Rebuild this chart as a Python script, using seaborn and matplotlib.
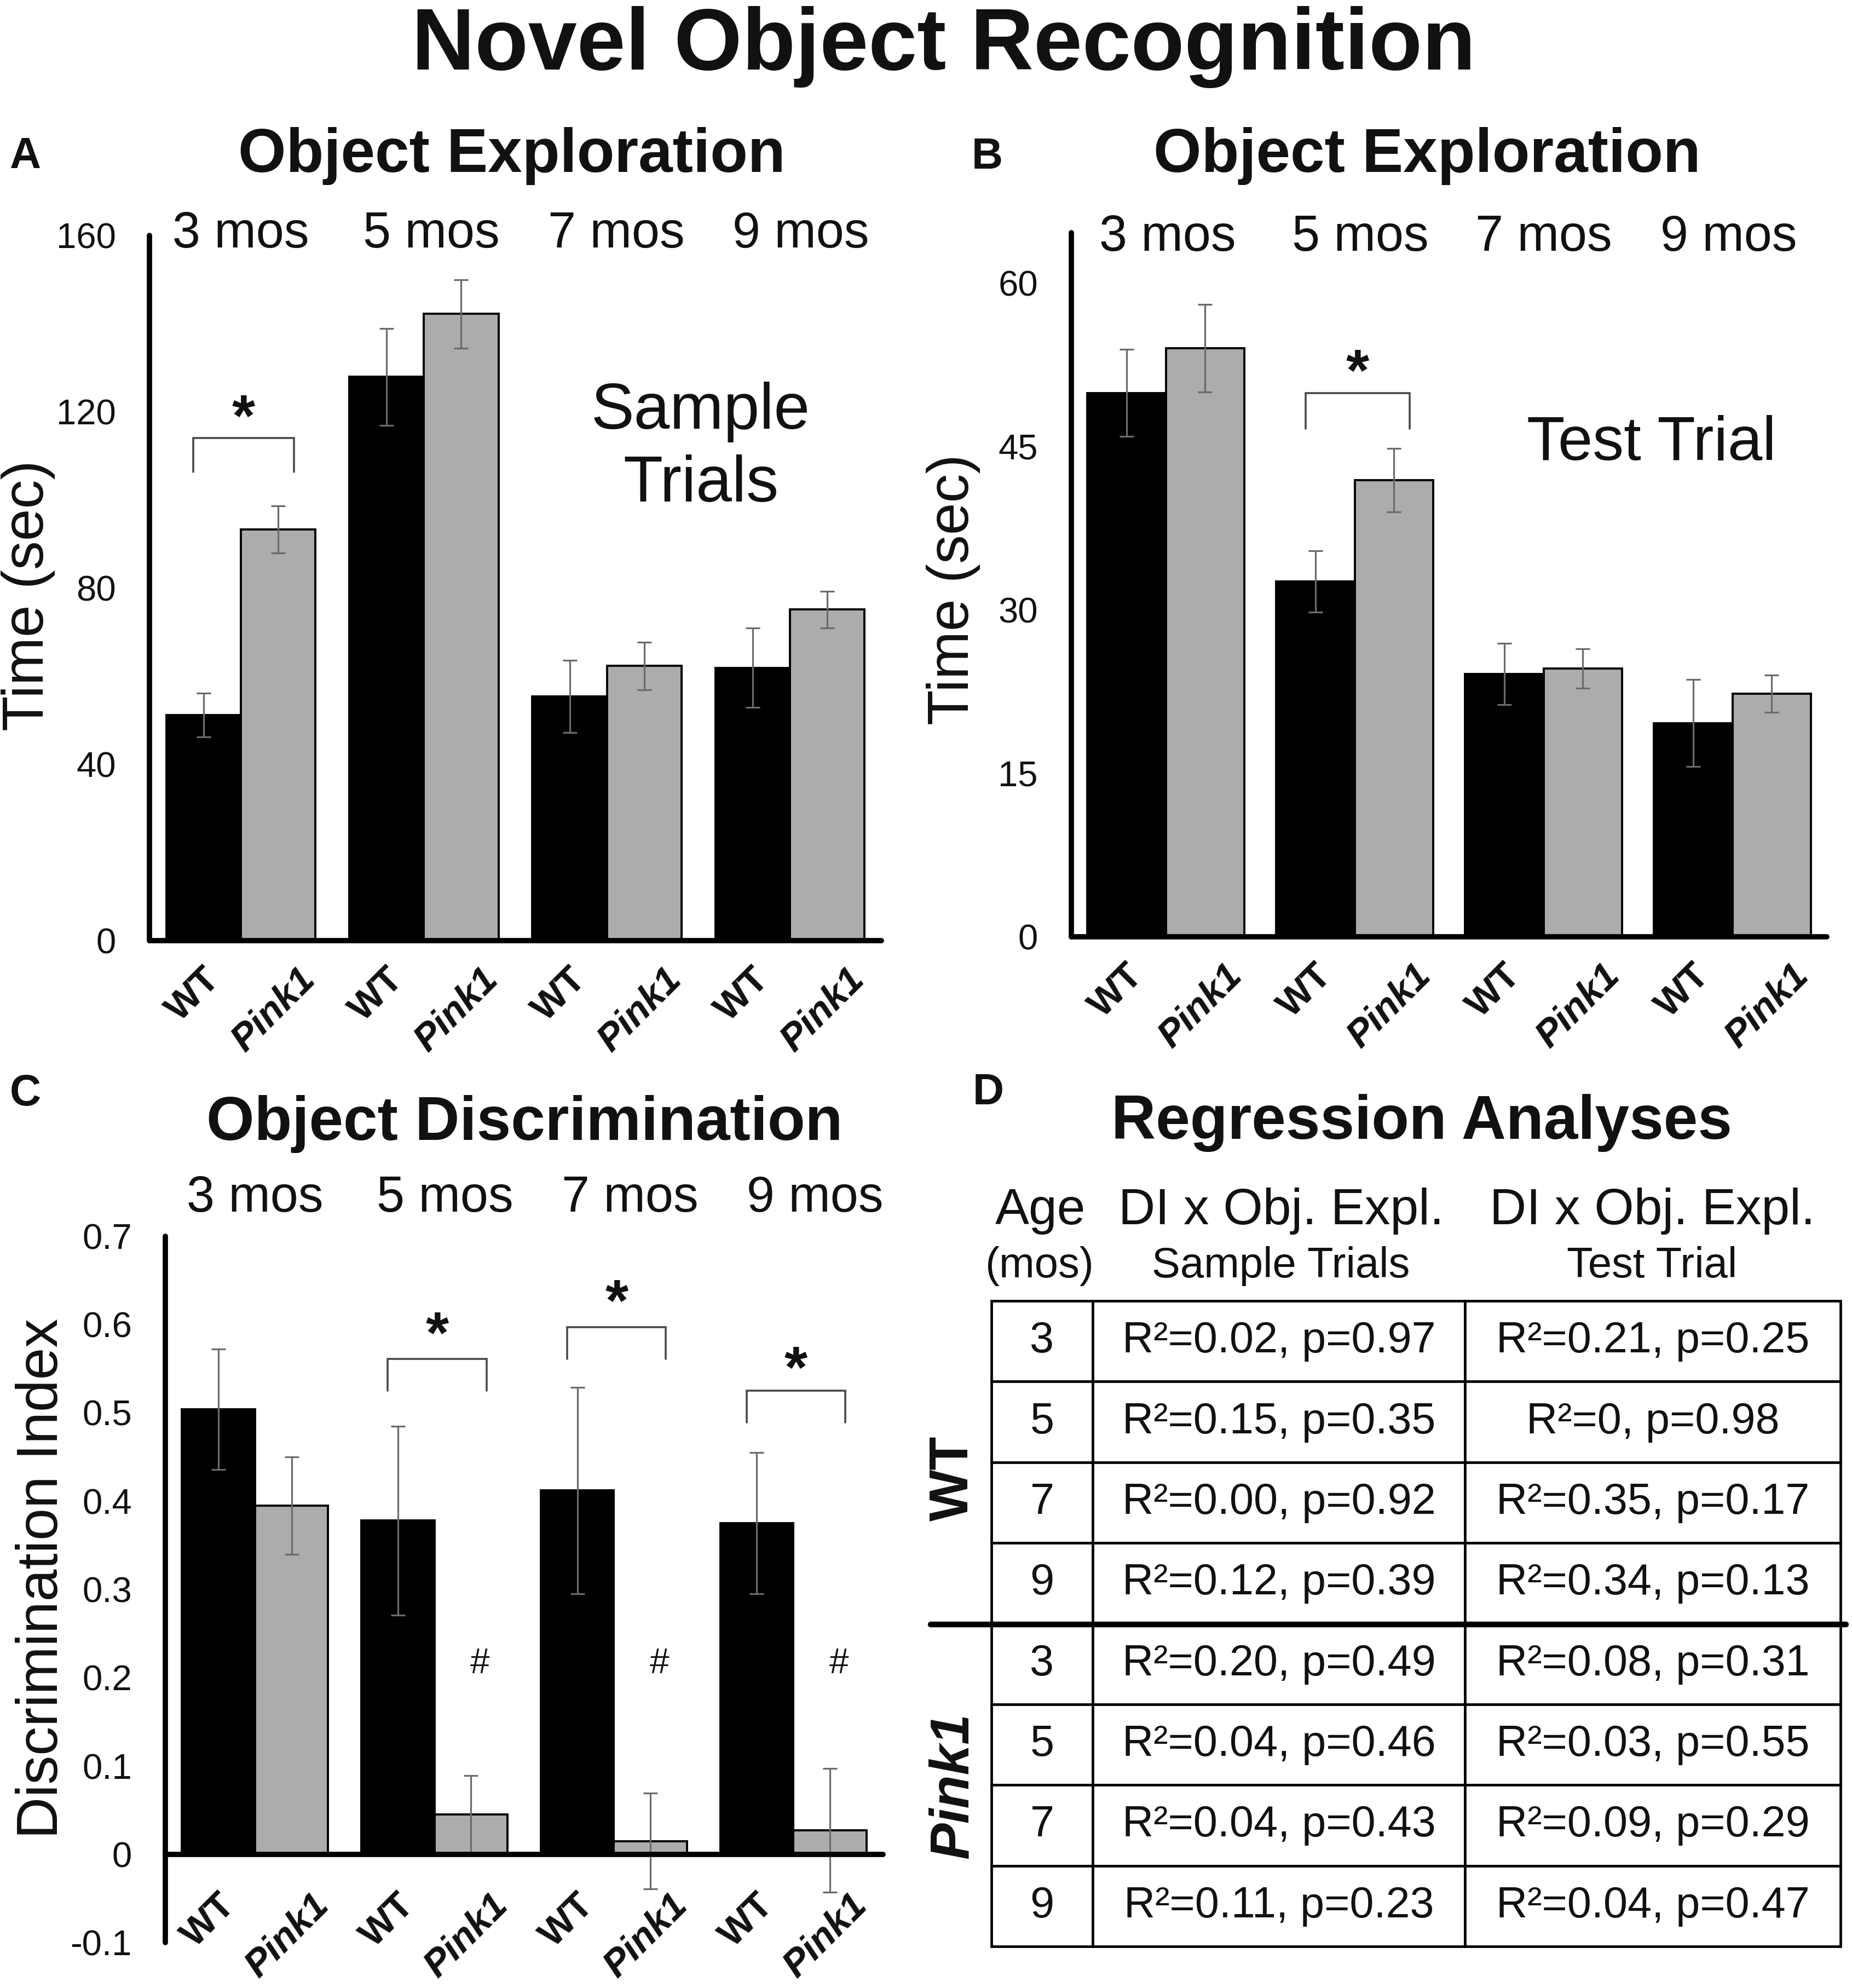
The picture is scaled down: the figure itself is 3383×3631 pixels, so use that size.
import matplotlib
matplotlib.use("Agg")
import matplotlib.pyplot as plt
import matplotlib.transforms as mtransforms
from matplotlib.lines import Line2D
import pandas as pd
import seaborn as sns

W, H = 3383, 3631

ages = ["3 mos", "5 mos", "7 mos", "9 mos"]
genotypes = ["WT", "Pink1"]

# panel A - sample trials, time (sec)
sample_wt = [51.2, 127.9, 55.4, 61.9]
sample_wt_err = [5.0, 11.0, 8.2, 9.0]
sample_pink1 = [93.3, 142.2, 62.3, 75.1]
sample_pink1_err = [5.3, 7.8, 5.4, 4.2]

# panel B - test trial, time (sec)
test_wt = [49.9, 32.6, 24.1, 19.6]
test_wt_err = [4.0, 2.8, 2.8, 4.0]
test_pink1 = [54.0, 41.9, 24.6, 22.3]
test_pink1_err = [4.0, 2.9, 1.8, 1.7]

# panel C - discrimination index
di_wt = [0.504, 0.378, 0.412, 0.375]
di_wt_err = [0.068, 0.107, 0.117, 0.080]
di_pink1 = [0.395, 0.045, 0.015, 0.027]
di_pink1_err = [0.055, 0.044, 0.054, 0.070]

# significance brackets: (group, bracket top, leg bottom, star centre)
sample_sig = [(0, 114.0, 106.3, 120.6)]
test_sig = [(1, 49.9, 46.6, 52.6)]
di_sig = [(1, 0.561, 0.525, 0.598), (2, 0.597, 0.561, 0.635), (3, 0.525, 0.489, 0.559)]
di_hash_groups = [1, 2, 3]
di_hash_y = 0.219

# panel D - regression table
table_groups = ["WT", "Pink1"]
table_ages = ["3", "5", "7", "9", "3", "5", "7", "9"]
sample_r2 = ["0.02", "0.15", "0.00", "0.12", "0.20", "0.04", "0.04", "0.11"]
sample_p = ["0.97", "0.35", "0.92", "0.39", "0.49", "0.46", "0.43", "0.23"]
test_r2 = ["0.21", "0", "0.35", "0.34", "0.08", "0.03", "0.09", "0.04"]
test_p = ["0.25", "0.98", "0.17", "0.13", "0.31", "0.55", "0.29", "0.47"]

GRAY = "#aeaaaa"
ERR = "#6b6b6b"
BRK = "#4a4a4a"

sns.set_theme(style="white")
plt.rcParams["font.family"] = ["Liberation Sans", "DejaVu Sans"]
plt.rcParams["text.color"] = "#111111"

fig = plt.figure(figsize=(W / 100, H / 100), dpi=100)


def fx(x):
    return x / W


def fy(y):
    return 1 - y / H


def add_axes(left, top, right, bottom):
    return fig.add_axes([fx(left), fy(bottom), (right - left) / W, (bottom - top) / H])


def bar_panel(ax, wt, wt_err, pink, pink_err, width, ylim, yticks, yticklabels,
              ylabel, ylabel_xy, mos_y, mos_dx, xpad=44, zero_spine=False):
    df = pd.DataFrame({
        "age": ages * 2,
        "genotype": ["WT"] * 4 + ["Pink1"] * 4,
        "value": wt + pink,
    })
    sns.barplot(data=df, x="age", y="value", hue="genotype", order=ages,
                hue_order=genotypes, palette={"WT": "black", "Pink1": GRAY},
                edgecolor="black", linewidth=2.8, width=width, errorbar=None,
                legend=False, ax=ax, zorder=2)
    bars = sorted(ax.patches, key=lambda p: p.get_x())
    centers = [p.get_x() + p.get_width() / 2 for p in bars]
    heights = [p.get_height() for p in bars]
    errs = [e for pair in zip(wt_err, pink_err) for e in pair]
    ax.errorbar(centers, heights, yerr=errs, fmt="none", ecolor=ERR,
                elinewidth=2.3, capsize=9.5, capthick=2.3, zorder=3)

    ax.set_xlim(-0.5, 3.5)
    ax.set_ylim(*ylim)
    ax.set_yticks(yticks)
    ax.set_yticklabels(yticklabels)
    for side in ["top", "right"]:
        ax.spines[side].set_visible(False)
    for side in ["left", "bottom"]:
        ax.spines[side].set_linewidth(7)
        ax.spines[side].set_color("black")
        ax.spines[side].set_capstyle("round")
        ax.spines[side].set_zorder(4)
    if zero_spine:
        ax.spines["bottom"].set_position(("data", 0))
    ax.tick_params(axis="y", length=0, pad=44, labelsize=47, labelcolor="#111111")
    ax.tick_params(axis="x", length=0, pad=xpad)
    ax.set_xlabel("")
    ax.set_ylabel(ylabel, fontsize=76, color="#111111")
    ax.yaxis.set_label_coords(*ylabel_xy)
    ax.yaxis.label.set_va("center")

    ax.set_xticks(centers)
    ax.set_xticklabels(genotypes * 4)
    for lab in ax.get_xticklabels():
        lab.set_rotation(45)
        lab.set_ha("right")
        lab.set_va("center")
        lab.set_rotation_mode("anchor")
        lab.set_fontsize(50)
        lab.set_fontweight("bold")
        lab.set_color("#111111")
        dx = 20
        if lab.get_text() == "Pink1":
            lab.set_fontstyle("italic")
            dx = 58
        lab.set_transform(lab.get_transform()
                          + mtransforms.ScaledTranslation(dx / 100, 0, fig.dpi_scale_trans))

    blend = mtransforms.blended_transform_factory(ax.transData, fig.transFigure)
    for i, (age, off) in enumerate(zip(ages, mos_dx)):
        ax.text(i + off, fy(mos_y), age, transform=blend, ha="center",
                va="baseline", fontsize=66)
    return centers


def brackets(ax, sig, fs=78):
    for g, top, leg, star in sig:
        x0, x1 = g - 0.26, g + 0.29
        ax.plot([x0, x0, x1, x1], [leg, top, top, leg], color=BRK, lw=2.6,
                solid_joinstyle="miter", zorder=3)
        ax.annotate("*", xy=((x0 + x1) / 2, star), xytext=(0, -0.45 * fs),
                    textcoords="offset points", ha="center", va="baseline",
                    fontsize=fs, fontweight="bold", color="#111111")


# ---- panel A
ax_a = add_axes(273, 430, 1610, 1718)
bar_panel(ax_a, sample_wt, sample_wt_err, sample_pink1, sample_pink1_err, 0.815,
          (0, 160), [0, 40, 80, 120, 160], ["0", "40", "80", "120", "160"],
          "Time (sec)", (-0.166, 0.489), 452, [0.0, 0.04, 0.05, 0.06])
brackets(ax_a, sample_sig)
fig.text(fx(1280), fy(783), "Sample", ha="center", va="baseline", fontsize=85)
fig.text(fx(1280), fy(916), "Trials", ha="center", va="baseline", fontsize=85)

# ---- panel B
ax_b = add_axes(1957, 425, 3337, 1711)
bar_panel(ax_b, test_wt, test_wt_err, test_pink1, test_pink1_err, 0.83,
          (0, 64.6), [0, 15, 30, 45, 60], ["0", "15", "30", "45", "60"],
          "Time (sec)", (-0.1565, 0.493), 458, [0.01, 0.03, 0.0, -0.02])
brackets(ax_b, test_sig)
fig.text(fx(3017), fy(840), "Test Trial", ha="center", va="baseline", fontsize=82)

# ---- panel C
ax_c = add_axes(302, 2258, 1613, 3548)
c_centers = bar_panel(ax_c, di_wt, di_wt_err, di_pink1, di_pink1_err, 0.815,
                      (-0.1, 0.7), [-0.1, 0, 0.1, 0.2, 0.3, 0.4, 0.5, 0.6, 0.7],
                      ["-0.1", "0", "0.1", "0.2", "0.3", "0.4", "0.5", "0.6", "0.7"],
                      "Discrimination Index", (-0.1716, 0.5155), 2213,
                      [0.0, 0.06, 0.09, 0.12], xpad=60, zero_spine=True)
brackets(ax_c, di_sig)
for g in di_hash_groups:
    ax_c.annotate("#", xy=(c_centers[2 * g + 1] + 0.05, di_hash_y), xytext=(0, -0.35 * 46),
                  textcoords="offset points", ha="center", va="baseline",
                  fontsize=46, color="#111111")

# ---- panel D table
rows = []
for age, sr, sp, tr, tp in zip(table_ages, sample_r2, sample_p, test_r2, test_p):
    rows.append([age, f"R\u00b2={sr}, p={sp}", f"R\u00b2={tr}, p={tp}"])
ax_t = add_axes(1811, 2376, 3362, 3555)
ax_t.axis("off")
tbl = ax_t.table(cellText=rows, colWidths=[185 / 1551, 680 / 1551, 686 / 1551],
                 cellLoc="center", bbox=[0, 0, 1, 1])
tbl.auto_set_font_size(False)
tbl.set_fontsize(57)
for cell in tbl.get_celld().values():
    cell.set_linewidth(3.4)
    cell.set_edgecolor("black")
    cell.get_text().set_color("#111111")
fig.add_artist(Line2D([fx(1700), fx(3372)], [fy(2967), fy(2967)], lw=7.5,
                      color="black", transform=fig.transFigure))

fig.text(fx(1901), fy(2236), "Age", ha="center", va="baseline", fontsize=67)
fig.text(fx(1899), fy(2333), "(mos)", ha="center", va="baseline", fontsize=56)
fig.text(fx(2340), fy(2236), "DI x Obj. Expl.", ha="center", va="baseline", fontsize=67)
fig.text(fx(2340), fy(2333), "Sample Trials", ha="center", va="baseline", fontsize=56)
fig.text(fx(3018), fy(2236), "DI x Obj. Expl.", ha="center", va="baseline", fontsize=67)
fig.text(fx(3018), fy(2333), "Test Trial", ha="center", va="baseline", fontsize=56)
fig.text(fx(1742), fy(2700), table_groups[0], rotation=90, ha="center", va="center",
         fontsize=72, fontweight="bold")
fig.text(fx(1742), fy(3262), table_groups[1], rotation=90, ha="center", va="center",
         fontsize=72, fontweight="bold", fontstyle="italic")

# ---- titles and panel letters
fig.text(fx(1724), fy(127), "Novel Object Recognition", ha="center", va="baseline",
         fontsize=115, fontweight="bold")
fig.text(fx(935), fy(314), "Object Exploration", ha="center", va="baseline",
         fontsize=81, fontweight="bold")
fig.text(fx(2607), fy(314), "Object Exploration", ha="center", va="baseline",
         fontsize=81, fontweight="bold")
fig.text(fx(958), fy(2082), "Object Discrimination", ha="center", va="baseline",
         fontsize=81, fontweight="bold")
fig.text(fx(2597), fy(2080), "Regression Analyses", ha="center", va="baseline",
         fontsize=81, fontweight="bold")
for letter, x, y in [("A", 17, 307), ("B", 1775, 308), ("C", 18, 2019), ("D", 1777, 2017)]:
    fig.text(fx(x), fy(y), letter, ha="left", va="baseline", fontsize=57, fontweight="bold")

fig.savefig("out.png", dpi=100, facecolor="white")
plt.close(fig)
